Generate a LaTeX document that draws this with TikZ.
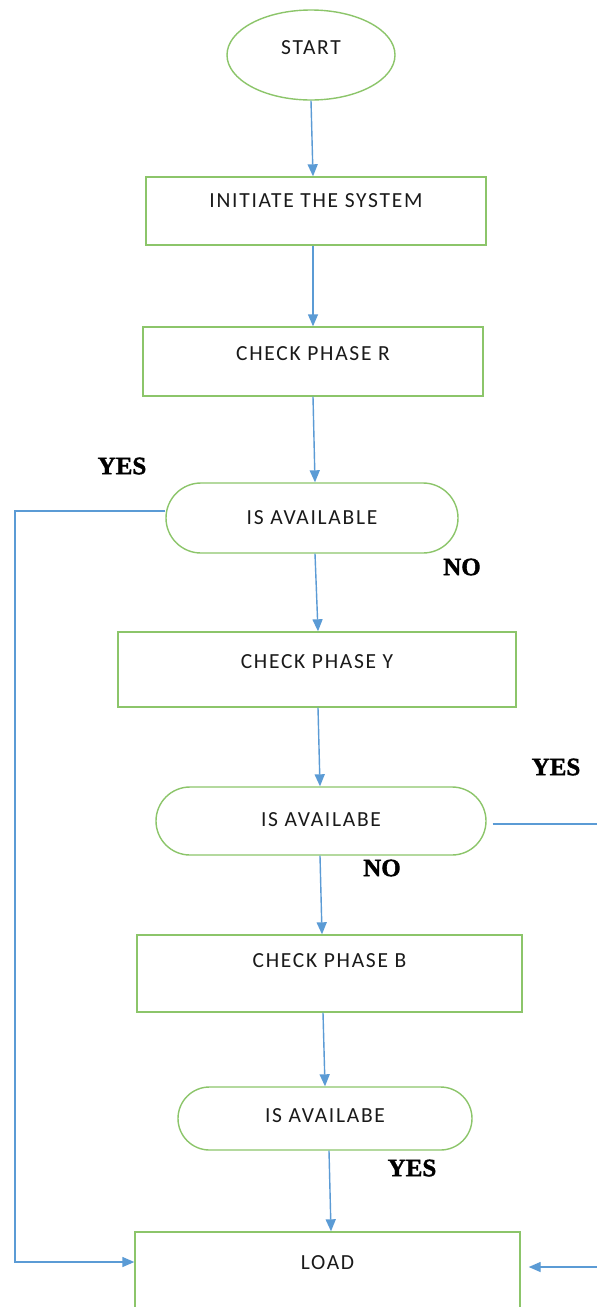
\documentclass[tikz,border=0pt]{standalone}
\usepackage{fontspec}
\setmainfont{Carlito}
\newfontfamily\boxfont[LetterSpace=8]{Carlito}
\newfontfamily\yesfont[BoldFeatures={FakeBold=1.5}]{Liberation Serif}
\usetikzlibrary{arrows.meta,shapes.geometric}
\definecolor{fgreen}{HTML}{8CC56A}
\definecolor{fblue}{HTML}{5B9BD5}
\definecolor{ftext}{HTML}{1A1A1A}
\begin{document}
\begin{tikzpicture}[x=1pt,y=-1pt,
  shapebox/.style={draw=fgreen,line width=1.4pt,fill=white,inner sep=0pt},
  rectbox/.style={shapebox,rectangle},
  stadium/.style={shapebox,rectangle},
  ovalbox/.style={shapebox,ellipse},
  txt/.style={text=ftext,font=\boxfont\fontsize{21.5}{24}\selectfont},
  arr/.style={draw=fblue,line width=1.4pt,-{Triangle[length=12pt,width=10pt]}},
  conn/.style={draw=fblue,line width=1.4pt},
  yesno/.style={font=\yesfont\bfseries\fontsize{25}{28}\selectfont,text=black,inner sep=0pt}]
\useasboundingbox (0,0) rectangle (597,1307);
\fill[white] (0,0) rectangle (597,1307);

\node[ovalbox,minimum width=168,minimum height=90,
  label={[txt,yshift=7pt]center:START}] (start) at (311,55) {};

\node[rectbox,minimum width=340,minimum height=68,
  label={[txt,yshift=10pt]center:INITIATE THE SYSTEM}] (init) at (316,211) {};
\node[rectbox,minimum width=340,minimum height=69,
  label={[txt,yshift=8pt]center:CHECK PHASE R}] (chkR) at (313,361.5) {};
\node[stadium,rounded corners=35pt,minimum width=292,minimum height=70,
  label={[txt]center:IS AVAILABLE}] (is1) at (312,518) {};
\node[rectbox,minimum width=398,minimum height=75,
  label={[txt,yshift=7.5pt]center:CHECK PHASE Y}] (chkY) at (317,669.5) {};
\node[stadium,rounded corners=34pt,minimum width=330,minimum height=68,
  label={[txt,yshift=1pt]center:IS AVAILABE}] (is2) at (321,821) {};
\node[rectbox,minimum width=385,minimum height=77,
  label={[txt,yshift=13pt]center:CHECK PHASE B}] (chkB) at (329.5,973.5) {};
\node[stadium,rounded corners=31.5pt,minimum width=294,minimum height=63,
  label={[txt,yshift=3pt]center:IS AVAILABE}] (is3) at (325,1118.5) {};
\node[rectbox,minimum width=385,minimum height=100,
  label={[txt,yshift=19pt]center:LOAD}] (load) at (327.5,1282) {};

\node[yesno] (yes1) at (122,466) {YES};
\node[yesno] (no1) at (462,567) {NO};
\node[yesno] (yes2) at (556,767) {YES};
\node[yesno] (no2) at (382,868) {NO};
\node[yesno] (yes3) at (412,1168) {YES};

\draw[arr] (start.south) -- ([xshift=-3pt]init.north);
\draw[arr] ([xshift=-3pt]init.south) -- (chkR.north);
\draw[arr] (chkR.south) -- ([xshift=3pt]is1.north);
\draw[arr] ([xshift=3pt]is1.south) -- ([xshift=1pt]chkY.north);
\draw[arr] ([xshift=1pt]chkY.south) -- ([xshift=-1pt]is2.north);
\draw[arr] ([xshift=-1pt]is2.south) -- ([xshift=-7.5pt]chkB.north);
\draw[arr] ([xshift=-6.5pt]chkB.south) -- (is3.north);
\draw[arr] ([xshift=4pt]is3.south) -- ([xshift=3.5pt]load.north);

\coordinate (lc) at (15,511);
\coordinate (ld) at (15,1262);
\draw[arr] ([yshift=7pt]is1.west) -- (lc) -- (ld) -- (load.west |- ld);

\coordinate (r2) at (597,824);
\draw[conn] ([xshift=6pt,yshift=-3pt]is2.east) -- (r2);

\coordinate (r3) at (597,1267);
\draw[arr] (r3) -- ([xshift=8pt]load.east |- r3);
\end{tikzpicture}
\end{document}
